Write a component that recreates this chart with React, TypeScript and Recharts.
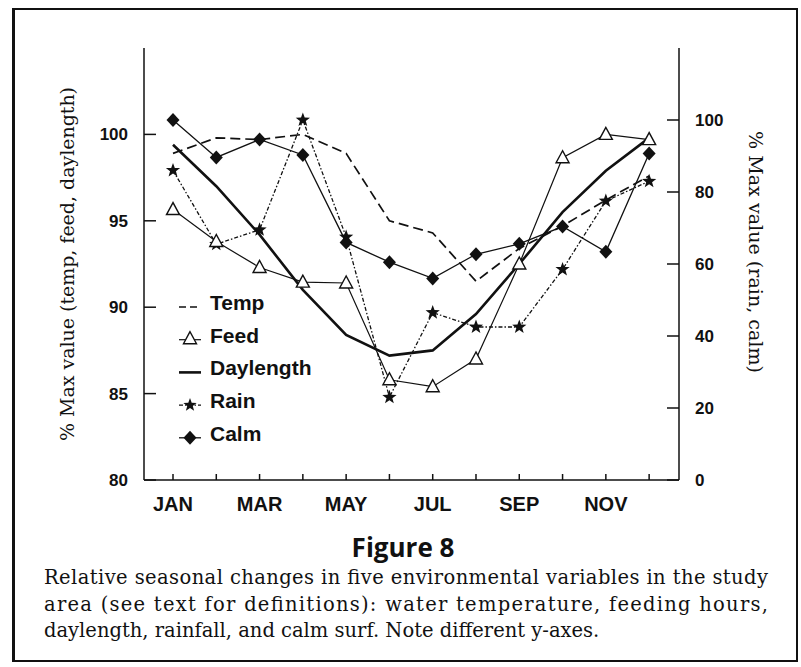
import React from 'react';
import { LineChart, Line, XAxis, YAxis, Legend } from 'recharts';

const months = ['JAN', 'FEB', 'MAR', 'APR', 'MAY', 'JUN', 'JUL', 'AUG', 'SEP', 'OCT', 'NOV', 'DEC'];
const temp = [98.9, 99.8, 99.7, 100.0, 98.9, 95.0, 94.3, 91.5, 93.4, 94.7, 96.2, 97.6];
const feed = [95.65, 93.8, 92.3, 91.45, 91.4, 85.8, 85.4, 87.0, 92.5, 98.65, 100.0, 99.7];
const daylength = [99.4, 97.0, 94.2, 91.0, 88.4, 87.2, 87.5, 89.6, 92.5, 95.5, 97.9, 99.8];
const rain = [86, 65.5, 69.5, 100, 67.5, 23, 46.5, 42.5, 42.5, 58.5, 77.5, 83];
const calm = [100, 89.6, 94.6, 90.3, 66, 60.5, 56, 62.7, 65.6, 70.4, 63.4, 90.7];

const leftTicks = [80, 85, 90, 95, 100];
const rightTicks = [0, 20, 40, 60, 80, 100];
const monthTicks = months.map((_, i) => i);

const legendNames = ['Temp', 'Feed', 'Daylength', 'Rain', 'Calm'];

const leftLabel = '% Max value (temp, feed, daylength)';
const rightLabel = '% Max value (rain, calm)';
const figTitle = 'Figure 8';
const captionLines = [
  'Relative seasonal changes in five environmental variables in the study',
  'area (see text for definitions): water temperature, feeding hours,',
  'daylength, rainfall, and calm surf. Note different y-axes.',
];

const data = months.map((m, i) => ({
  idx: i,
  month: m,
  temp: temp[i],
  feed: feed[i],
  daylength: daylength[i],
  rain: rain[i],
  calm: calm[i],
}));

const INK = '#111';
const SANS = '"Liberation Sans", Arial, Helvetica, sans-serif';
const SERIF = '"DejaVu Serif", serif';

const starPath = (cx: number, cy: number, R: number, r: number) => {
  let d = '';
  for (let k = 0; k < 10; k++) {
    const ang = -Math.PI / 2 + (k * Math.PI) / 5;
    const rad = k % 2 === 0 ? R : r;
    d += (k ? 'L' : 'M') + (cx + rad * Math.cos(ang)).toFixed(2) + ',' + (cy + rad * Math.sin(ang)).toFixed(2);
  }
  return d + 'Z';
};

const triPath = (cx: number, cy: number) =>
  `M${cx},${cy - 7}L${cx - 6.5},${cy + 5}L${cx + 6.5},${cy + 5}Z`;
const diaPath = (cx: number, cy: number) =>
  `M${cx},${cy - 7}L${cx + 6.5},${cy}L${cx},${cy + 7}L${cx - 6.5},${cy}Z`;

const StarDot = (p: any) =>
  p.cx == null ? null : <path key={`s-${p.index}`} d={starPath(p.cx, p.cy, 7.5, 3.1)} fill={INK} />;
const TriDot = (p: any) =>
  p.cx == null ? null : <path key={`t-${p.index}`} d={triPath(p.cx, p.cy)} fill="#fff" stroke={INK} strokeWidth={1.4} />;
const DiaDot = (p: any) =>
  p.cx == null ? null : <path key={`c-${p.index}`} d={diaPath(p.cx, p.cy)} fill={INK} />;

const LeftTick = ({ x, y, payload }: any) => (
  <g>
    <line x1={x + 16} x2={x + 28} y1={y} y2={y} stroke={INK} strokeWidth={1.5} />
    <text x={x} y={y} dy={6} textAnchor="end" fontFamily={SANS} fontWeight="bold" fontSize={17} fill={INK}>
      {payload.value}
    </text>
  </g>
);

const RightTick = ({ x, y, payload }: any) => (
  <g>
    <line x1={x - 16} x2={x - 28} y1={y} y2={y} stroke={INK} strokeWidth={1.5} />
    <text x={x} y={y} dy={6} textAnchor="start" fontFamily={SANS} fontWeight="bold" fontSize={17} fill={INK}>
      {payload.value}
    </text>
  </g>
);

const BottomTick = ({ x, y, payload }: any) => (
  <g>
    <line x1={x} x2={x} y1={y - 31} y2={y - 37} stroke={INK} strokeWidth={1.5} />
    {payload.value % 2 === 0 ? (
      <text x={x} y={y} textAnchor="middle" fontFamily={SANS} fontWeight="bold" fontSize={20} fill={INK}>
        {months[payload.value]}
      </text>
    ) : null}
  </g>
);

const renderLegend = () => (
  <svg width={200} height={175} style={{ overflow: 'visible' }}>
    {legendNames.map((name, i) => {
      const ly = 17 + i * 32.7;
      const x1 = 9;
      const x2 = 31;
      const mx = 20;
      let sample: React.ReactNode = null;
      if (i === 0)
        sample = <line x1={x1} x2={x2} y1={ly} y2={ly} stroke={INK} strokeWidth={1.6} strokeDasharray="7 4" />;
      if (i === 1)
        sample = (
          <g>
            <line x1={x1} x2={x2} y1={ly} y2={ly} stroke={INK} strokeWidth={1.2} />
            <path d={triPath(mx, ly - 1)} fill="#fff" stroke={INK} strokeWidth={1.4} />
          </g>
        );
      if (i === 2) sample = <line x1={x1} x2={x2} y1={ly} y2={ly} stroke={INK} strokeWidth={2.6} />;
      if (i === 3)
        sample = (
          <g>
            <line x1={x1} x2={x2} y1={ly} y2={ly} stroke={INK} strokeWidth={1.3} strokeDasharray="4 2 1.5 2" />
            <path d={starPath(mx, ly, 7, 2.9)} fill={INK} />
          </g>
        );
      if (i === 4)
        sample = (
          <g>
            <line x1={x1} x2={x2} y1={ly} y2={ly} stroke={INK} strokeWidth={1.3} />
            <path d={diaPath(mx, ly)} fill={INK} />
          </g>
        );
      return (
        <g key={name}>
          {sample}
          <text x={40} y={ly + 3} fontFamily={SANS} fontWeight="bold" fontSize={21} fill={INK}>
            {name}
          </text>
        </g>
      );
    })}
  </svg>
);

export default function App() {
  return (
    <div style={{ position: 'absolute', left: 0, top: 0, width: 801, height: 667, background: '#fff' }}>
      <svg width={801} height={667} style={{ position: 'absolute', left: 0, top: 0 }}>
        <line x1={13.5} x2={13.5} y1={8} y2={662} stroke={INK} strokeWidth={3} />
        <line x1={12} x2={798} y1={9} y2={9} stroke={INK} strokeWidth={2} />
        <line x1={797} x2={797} y1={8} y2={662} stroke={INK} strokeWidth={2} />
        <line x1={12} x2={798} y1={661} y2={661} stroke={INK} strokeWidth={2} />
        <text
          transform="translate(74,264) rotate(-90)"
          textAnchor="middle"
          fontFamily={SERIF}
          fontSize={18.5}
          fill={INK}
          textLength={354}
          lengthAdjust="spacingAndGlyphs"
        >
          {leftLabel}
        </text>
        <text
          transform="translate(749,252) rotate(90)"
          textAnchor="middle"
          fontFamily={SERIF}
          fontSize={18.5}
          fill={INK}
          textLength={242}
          lengthAdjust="spacingAndGlyphs"
        >
          {rightLabel}
        </text>
        <text x={403} y={557} textAnchor="middle" fontFamily='"Open Sans", sans-serif' fontWeight="bold" fontSize={26} fill={INK}>
          {figTitle}
        </text>
        {captionLines.map((ln, i) => (
          <text
            key={i}
            x={44}
            y={584 + i * 26.5}
            fontFamily={SERIF}
            fontSize={19.5}
            fill={INK}
            {...(i < 2 ? { textLength: 724, lengthAdjust: 'spacing' } : {})}
          >
            {ln}
          </text>
        ))}
      </svg>
      <div style={{ position: 'absolute', left: 0, top: 0 }}>
        <LineChart width={801} height={540} data={data} margin={{ top: 48, right: 0, bottom: 0, left: 0 }}>
          <XAxis
            dataKey="idx"
            type="number"
            domain={[-0.67, 11.69]}
            allowDataOverflow
            ticks={monthTicks}
            interval={0}
            height={60}
            tickSize={0}
            tickMargin={31}
            tickLine={false}
            tick={<BottomTick />}
            axisLine={{ stroke: INK, strokeWidth: 1.5 }}
          />
          <XAxis
            xAxisId="top"
            dataKey="idx"
            type="number"
            domain={[-0.67, 11.69]}
            allowDataOverflow
            orientation="top"
            height={0}
            tick={false}
            tickLine={false}
            axisLine={{ stroke: INK, strokeWidth: 1.5 }}
          />
          <YAxis
            yAxisId="left"
            orientation="left"
            width={144}
            domain={[80, 105]}
            ticks={leftTicks}
            interval={0}
            allowDataOverflow
            tickSize={0}
            tickMargin={16}
            tickLine={false}
            tick={<LeftTick />}
            axisLine={{ stroke: INK, strokeWidth: 1.5 }}
          />
          <YAxis
            yAxisId="right"
            orientation="right"
            width={122}
            domain={[0, 120]}
            ticks={rightTicks}
            interval={0}
            allowDataOverflow
            tickSize={0}
            tickMargin={16}
            tickLine={false}
            tick={<RightTick />}
            axisLine={{ stroke: INK, strokeWidth: 1.5 }}
          />
          <Legend
            layout="horizontal"
            verticalAlign="middle"
            align="center"
            content={renderLegend}
            wrapperStyle={{ left: 170, top: 290, width: 200, height: 175 }}
          />
          <Line
            yAxisId="left"
            dataKey="temp"
            stroke={INK}
            strokeWidth={1.7}
            strokeDasharray="10 5"
            dot={false}
            activeDot={false}
            isAnimationActive={false}
          />
          <Line
            yAxisId="left"
            dataKey="daylength"
            stroke={INK}
            strokeWidth={2.6}
            dot={false}
            activeDot={false}
            isAnimationActive={false}
          />
          <Line
            yAxisId="right"
            dataKey="rain"
            stroke={INK}
            strokeWidth={1.3}
            strokeDasharray="4 2 1.5 2"
            dot={StarDot}
            activeDot={false}
            isAnimationActive={false}
          />
          <Line
            yAxisId="right"
            dataKey="calm"
            stroke={INK}
            strokeWidth={1.3}
            dot={DiaDot}
            activeDot={false}
            isAnimationActive={false}
          />
          <Line
            yAxisId="left"
            dataKey="feed"
            stroke={INK}
            strokeWidth={1.2}
            dot={TriDot}
            activeDot={false}
            isAnimationActive={false}
          />
        </LineChart>
      </div>
    </div>
  );
}
